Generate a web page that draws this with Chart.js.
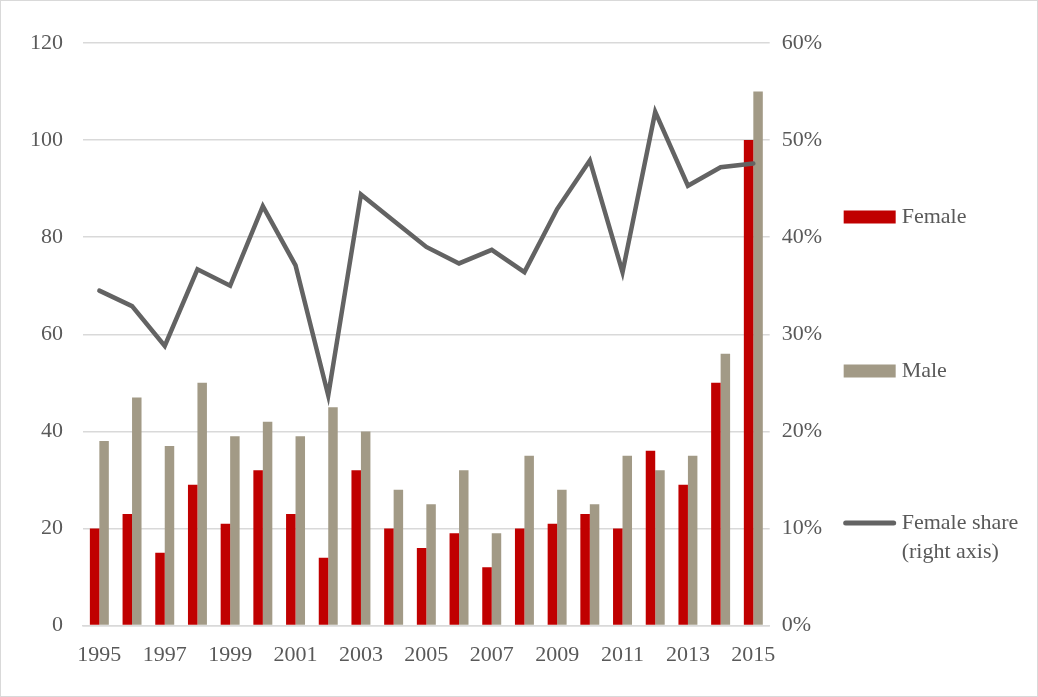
<!DOCTYPE html>
<html>
<head>
<meta charset="utf-8">
<script src="https://cdn.jsdelivr.net/npm/chart.js@4/dist/chart.umd.min.js"></script>
<style>
  html, body { margin: 0; padding: 0; background: #fff; }
  #wrap {
    position: relative;
    width: 1036px;
    height: 695px;
    border: 1px solid #d9d9d9;
  }
</style>
</head>
<body>
<div id="wrap"><canvas id="chart"></canvas></div>
<script>
const years = ['1995', '1996', '1997', '1998', '1999', '2000', '2001', '2002', '2003', '2004',
  '2005', '2006', '2007', '2008', '2009', '2010', '2011', '2012', '2013', '2014', '2015'];
const female = [20, 23, 15, 29, 21, 32, 23, 14, 32, 20, 16, 19, 12, 20, 21, 23, 20, 36, 29, 50, 100];
const male = [38, 47, 37, 50, 39, 42, 39, 45, 40, 28, 25, 32, 19, 35, 28, 25, 35, 32, 35, 56, 110];
// female share in percent, right axis
const femaleShare = [34.5, 32.9, 28.8, 36.7, 35.0, 43.2, 37.1, 23.7, 44.4, 41.7, 39.0,
  37.3, 38.7, 36.4, 42.9, 47.9, 36.4, 52.9, 45.3, 47.2, 47.6];

const FONT = '"Liberation Serif", "DejaVu Serif", serif';
const TEXT = '#595959';

// legend placed down the right side, one entry at a time
const sideLegend = {
  id: 'sideLegend',
  afterDraw(chart, args, opts) {
    const ctx = chart.ctx;
    const x = chart.chartArea.right + opts.offsetX;
    ctx.save();
    ctx.font = '22px ' + FONT;
    ctx.fillStyle = TEXT;
    ctx.textBaseline = 'middle';
    opts.items.forEach(item => {
      const ds = chart.data.datasets[item.index];
      if (ds.type === 'line') {
        ctx.strokeStyle = ds.borderColor;
        ctx.lineWidth = 5;
        ctx.lineCap = 'round';
        ctx.beginPath();
        ctx.moveTo(x + 2, item.y);
        ctx.lineTo(x + 50, item.y);
        ctx.stroke();
      } else {
        ctx.fillStyle = ds.backgroundColor;
        ctx.fillRect(x, item.y - 6.5, 52, 13);
      }
      ctx.fillStyle = TEXT;
      const lines = item.text || [ds.label];
      lines.forEach((t, i) => ctx.fillText(t, x + 58, item.y + i * 29));
    });
    ctx.restore();
  }
};

new Chart(document.getElementById('chart'), {
  data: {
    labels: years,
    datasets: [
      {
        type: 'line',
        label: 'Female share (right axis)',
        data: femaleShare,
        yAxisID: 'y1',
        borderColor: '#636363',
        borderWidth: 4.5,
        borderCapStyle: 'round',
        borderJoinStyle: 'miter',
        pointRadius: 0,
        tension: 0,
        order: 0
      },
      {
        type: 'bar',
        label: 'Female',
        data: female,
        yAxisID: 'y',
        backgroundColor: '#c00000',
        barPercentage: 1,
        categoryPercentage: 0.58,
        order: 1
      },
      {
        type: 'bar',
        label: 'Male',
        data: male,
        yAxisID: 'y',
        backgroundColor: '#a29a86',
        barPercentage: 1,
        categoryPercentage: 0.58,
        order: 1
      }
    ]
  },
  options: {
    responsive: true,
    maintainAspectRatio: false,
    animation: false,
    layout: { padding: { top: 42, right: 203, bottom: 20, left: 9 } },
    plugins: {
      legend: { display: false },
      tooltip: { enabled: false },
      sideLegend: {
        offsetX: 74,
        items: [
          { index: 1, y: 216 },
          { index: 2, y: 370 },
          { index: 0, y: 522, text: ['Female share', '(right axis)'] }
        ]
      }
    },
    scales: {
      x: {
        grid: { display: false },
        border: { color: '#d9d9d9', width: 1.5 },
        ticks: {
          autoSkip: false,
          maxRotation: 0,
          padding: 8,
          color: TEXT,
          font: { family: FONT, size: 22 },
          callback(v, i) { return i % 2 === 0 ? years[i] : ''; }
        }
      },
      y: {
        position: 'left',
        min: 0,
        max: 120,
        ticks: { stepSize: 20, padding: 20, color: TEXT, font: { family: FONT, size: 22 } },
        grid: { color: '#d9d9d9', lineWidth: 1.5, drawTicks: false },
        border: { display: false }
      },
      y1: {
        position: 'right',
        min: 0,
        max: 60,
        ticks: {
          stepSize: 10,
          padding: 12,
          color: TEXT,
          font: { family: FONT, size: 22 },
          callback: v => v + '%'
        },
        grid: { display: false, drawTicks: false },
        border: { display: false }
      }
    }
  },
  plugins: [sideLegend]
});
</script>
</body>
</html>
